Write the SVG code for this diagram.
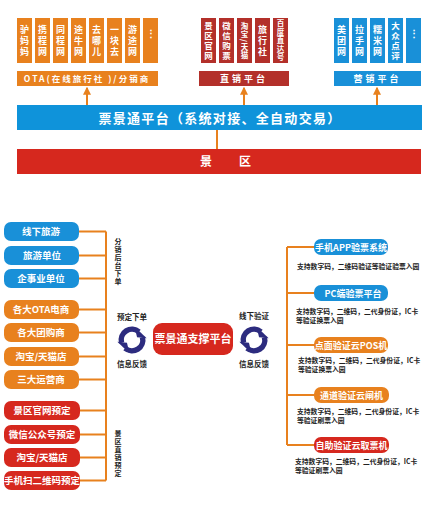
<svg xmlns="http://www.w3.org/2000/svg" width="434" height="510" viewBox="0 0 434 510">
<style>
text{font-family:"Noto Sans CJK SC","Noto Sans",sans-serif;font-weight:bold}
.w{fill:#fff}
.vt{writing-mode:vertical-rl;text-anchor:middle;font-size:9px;fill:#fff;letter-spacing:2px}
.v4{writing-mode:vertical-rl;text-anchor:middle;font-size:8.5px;fill:#fff;letter-spacing:1.5px}
.v8{writing-mode:vertical-rl;text-anchor:middle;font-size:7.5px;fill:#fff;letter-spacing:1px}
.or{fill:#e8811e}
.bl{fill:#1990d8}
.rd{fill:#d6281e}
.dr{fill:#b3302a}
.ln{stroke:#e8811e;stroke-width:2;fill:none}
.bt{font-size:9.5px;fill:#fff;text-anchor:middle}
.rt{font-size:9px;fill:#fff;text-anchor:middle}
.ds{font-size:6.8px;fill:#222;font-weight:bold}
.lb{font-size:7.5px;fill:#222;text-anchor:middle}
.vl{writing-mode:vertical-rl;text-anchor:middle;font-size:7px;fill:#222;letter-spacing:1px}
</style>
<defs>
<g id="cyc">
<path d="M-8.7,2.3 A9,9 0 0 1 5.8,-6.9" stroke="#2d2c7f" stroke-width="4.5" fill="none"/>
<polygon points="2.2,-11 12.2,-1.5 4.2,-2.2" fill="#2d2c7f"/>
<g transform="rotate(180)">
<path d="M-8.7,2.3 A9,9 0 0 1 5.8,-6.9" stroke="#2d2c7f" stroke-width="4.5" fill="none"/>
<polygon points="2.2,-11 12.2,-1.5 4.2,-2.2" fill="#2d2c7f"/>
</g>
</g>
<marker id="ah" viewBox="0 0 6 6" refX="5" refY="3" markerWidth="4" markerHeight="4" orient="auto">
<path d="M0,0 L6,3 L0,6 Z" fill="#e8811e"/>
</marker>
</defs>

<g id="connectors">
<line class="ln" x1="87" y1="105" x2="87" y2="88" stroke-width="1.5" marker-end="url(#ah)"/>
<line class="ln" x1="244" y1="105" x2="244" y2="88" stroke-width="1.5" marker-end="url(#ah)"/>
<line class="ln" x1="377" y1="105" x2="377" y2="88" stroke-width="1.5" marker-end="url(#ah)"/>
<line class="ln" x1="217" y1="130" x2="217" y2="149" stroke-width="1.5"/>
<path class="ln" d="M106,231.5 V480.5 M79,231.5 H106 M79,255.5 H106 M79,278.5 H106 M79,309.5 H106 M79,332.5 H106 M79,356.5 H106 M79,379.5 H106 M79,410.5 H106 M79,434.5 H106 M79,457.5 H106 M79,480.5 H106"/>
<path class="ln" d="M287,247 V445 M287,247 H314 M287,293 H314 M287,345 H314 M287,395 H314 M287,445 H314"/>
</g>

<g id="ota">
<rect class="or" x="17" y="18" width="15" height="45"/><text class="vt" x="24.5" y="41.5">驴妈妈</text>
<rect class="or" x="35" y="18" width="15" height="45"/><text class="vt" x="42.5" y="41.5">携程网</text>
<rect class="or" x="53" y="18" width="15" height="45"/><text class="vt" x="60.5" y="41.5">同程网</text>
<rect class="or" x="71" y="18" width="15" height="45"/><text class="vt" x="78.5" y="41.5">途牛网</text>
<rect class="or" x="89" y="18" width="15" height="45"/><text class="vt" x="96.5" y="41.5">去哪儿</text>
<rect class="or" x="107" y="18" width="15" height="45"/><text class="vt" x="114.5" y="41.5">一块去</text>
<rect class="or" x="125" y="18" width="15" height="45"/><text class="vt" x="132.5" y="41.5">游途网</text>
<rect class="or" x="143" y="18" width="15" height="45"/><text class="bt" x="150.5" y="37">⋮</text>
<rect class="or" x="17" y="71" width="141" height="15"/>
<text class="w" x="87" y="81.5" font-size="8.5" text-anchor="middle" letter-spacing="2">OTA(在线旅行社 )/分销商</text>
</g>

<g id="direct">
<rect class="dr" x="201" y="18" width="15" height="45"/><text class="v4" x="208.5" y="41.3">景区官网</text>
<rect class="dr" x="219" y="18" width="15" height="45"/><text class="v4" x="226.5" y="41.3">微信购票</text>
<rect class="dr" x="237" y="18" width="15" height="45"/><text class="v8" x="244.5" y="41">淘宝/天猫</text>
<rect class="dr" x="255" y="18" width="15" height="45"/><text class="vt" x="262.5" y="41.5">旅行社</text>
<rect class="dr" x="273" y="18" width="15" height="45"/><text class="v8" x="280.5" y="41">百度直达号</text>
<rect class="dr" x="199" y="71" width="90" height="15"/>
<text class="w" x="244" y="81.8" font-size="9" text-anchor="middle" letter-spacing="3">直销平台</text>
</g>

<g id="marketing">
<rect class="bl" x="334" y="18" width="15" height="45"/><text class="vt" x="341.5" y="41.5">美团网</text>
<rect class="bl" x="352" y="18" width="15" height="45"/><text class="vt" x="359.5" y="41.5">拉手网</text>
<rect class="bl" x="370" y="18" width="15" height="45"/><text class="vt" x="377.5" y="41.5">糯米网</text>
<rect class="bl" x="388" y="18" width="15" height="45"/><text class="v4" x="395.5" y="41.3">大众点评</text>
<rect class="bl" x="406" y="18" width="15" height="45"/><text class="bt" x="413.5" y="37">⋮</text>
<rect class="bl" x="334" y="71" width="87" height="15"/>
<text class="w" x="377.5" y="81.8" font-size="9" text-anchor="middle" letter-spacing="3">营销平台</text>
</g>

<g id="platform">
<rect x="17" y="105" width="405" height="25" fill="#0f93da"/>
<text class="w" x="220" y="122.5" font-size="13" text-anchor="middle" letter-spacing="1.3">票景通平台（系统对接、全自动交易）</text>
</g>

<g id="scenic">
<rect x="17" y="149" width="404" height="25" fill="#d6281e"/>
<text class="w" x="206" y="166" font-size="12" text-anchor="middle">景</text>
<text class="w" x="245" y="166" font-size="12" text-anchor="middle">区</text>
</g>

<g id="left-nodes">
<g id="n1"><rect class="bl" x="4" y="222" width="75" height="19" rx="7"/><text class="bt" x="41" y="235">线下旅游</text></g>
<g id="n2"><rect class="bl" x="4" y="246" width="75" height="19" rx="7"/><text class="bt" x="42" y="259">旅游单位</text></g>
<g id="n3"><rect class="bl" x="4" y="269" width="75" height="19" rx="7"/><text class="bt" x="41" y="282">企事业单位</text></g>
<g id="n4"><rect class="or" x="4" y="300" width="75" height="19" rx="7"/><text class="bt" x="41" y="313">各大OTA电商</text></g>
<g id="n5"><rect class="or" x="4" y="323" width="75" height="19" rx="7"/><text class="bt" x="41" y="336">各大团购商</text></g>
<g id="n6"><rect class="or" x="4" y="347" width="75" height="19" rx="7"/><text class="bt" x="41" y="360">淘宝/天猫店</text></g>
<g id="n7"><rect class="or" x="4" y="370" width="75" height="19" rx="7"/><text class="bt" x="41" y="383">三大运营商</text></g>
<g id="n8"><rect class="rd" x="4" y="401" width="76" height="19" rx="7"/><text class="bt" x="42" y="414">景区官网预定</text></g>
<g id="n9"><rect class="rd" x="4" y="425" width="76" height="19" rx="7"/><text class="bt" x="42" y="438">微信公众号预定</text></g>
<g id="n10"><rect class="rd" x="4" y="448" width="76" height="19" rx="7"/><text class="bt" x="42" y="461">淘宝/天猫店</text></g>
<g id="n11"><rect class="rd" x="4" y="471" width="76" height="19" rx="7"/><text class="bt" x="42" y="484" font-size="9">手机扫二维码预定</text></g>
<text class="vl" x="118" y="261.5">分销后台下单</text>
<text class="vl" x="118" y="453.5">景区直销预定</text>
</g>

<g id="center">
<text class="lb" x="132" y="320">预定下单</text>
<use href="#cyc" transform="translate(132,340) scale(1.2)"/>
<text class="lb" x="132" y="367">信息反馈</text>
<rect x="153" y="323" width="80" height="32" rx="9" fill="#d6281e"/>
<text class="w" x="193" y="343" font-size="11" text-anchor="middle">票景通支撑平台</text>
<text class="lb" x="254" y="319">线下验证</text>
<use href="#cyc" transform="translate(254,340) scale(1.2)"/>
<text class="lb" x="254" y="367">信息反馈</text>
</g>

<g id="right-nodes">
<g id="r1"><rect class="bl" x="314" y="239" width="74" height="16" rx="7"/><text class="rt" x="351" y="250.5">手机APP验票系统</text>
<text class="ds" x="297" y="268.5">支持数字码，二维码验证等验证验票入园</text></g>
<g id="r2"><rect class="bl" x="314" y="285" width="74" height="16" rx="7"/><text class="rt" x="353" y="296.5">PC端验票平台</text>
<text class="ds" x="296" y="313.5">支持数字码，二维码，二代身份证，IC卡</text>
<text class="ds" x="296" y="322.5">等验证换票入园</text></g>
<g id="r3"><rect class="or" x="314" y="337" width="74" height="16" rx="7"/><text class="rt" x="351" y="348.5">点面验证云POS机</text>
<text class="ds" x="298" y="362.5">支持数字码，二维码，二代身份证，IC卡</text>
<text class="ds" x="298" y="371.5">等验证换票入园</text></g>
<g id="r4"><rect class="or" x="314" y="387" width="75" height="16" rx="7"/><text class="rt" x="351.5" y="398.5">通道验证云闸机</text>
<text class="ds" x="297" y="414">支持数字码，二维码，二代身份证，IC卡</text>
<text class="ds" x="297" y="423">等验证刷票入园</text></g>
<g id="r5"><rect class="rd" x="314" y="437" width="75" height="16" rx="7"/><text class="rt" x="351.5" y="448.5">自助验证云取票机</text>
<text class="ds" x="295" y="464">支持数字码，二维码，二代身份证，IC卡</text>
<text class="ds" x="295" y="473">等验证刷票入园</text></g>
</g>
</svg>
